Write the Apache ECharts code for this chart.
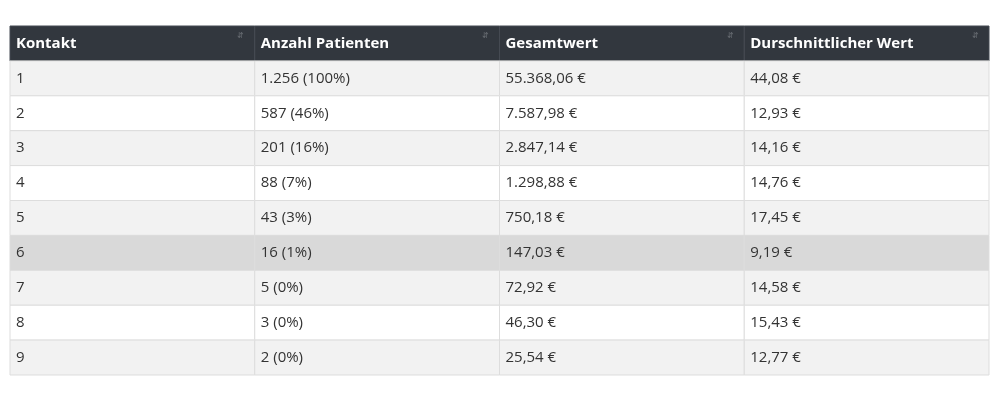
<!DOCTYPE html>
<html><head><meta charset="utf-8">
<script src="https://cdn.jsdelivr.net/npm/echarts@6/dist/echarts.min.js"></script>
<style>html,body{margin:0;background:#fff}#c{width:1000px;height:400px}</style>
</head><body><div id="c"></div>
<script>
const headers = ['Kontakt','Anzahl Patienten','Gesamtwert','Durschnittlicher Wert'];
const kontakt = ['1','2','3','4','5','6','7','8','9'];
const patienten = ['1.256 (100%)','587 (46%)','201 (16%)','88 (7%)','43 (3%)','16 (1%)','5 (0%)','3 (0%)','2 (0%)'];
const gesamt = ['55.368,06 €','7.587,98 €','2.847,14 €','1.298,88 €','750,18 €','147,03 €','72,92 €','46,30 €','25,54 €'];
const durchschnitt = ['44,08 €','12,93 €','14,16 €','14,76 €','17,45 €','9,19 €','14,58 €','15,43 €','12,77 €'];
const highlightRow = 6;

const cols = [kontakt, patienten, gesamt, durchschnitt];
const data = [];
headers.forEach((h,c)=>data.push([c,0,h]));
kontakt.forEach((_,r)=>cols.forEach((col,c)=>data.push([c,r+1,col[r]])));

const chart = echarts.init(document.getElementById('c'));
chart.setOption({
  animation:false,
  grid:{left:10,top:26,width:979,height:349},
  xAxis:{type:'value',min:0,max:4,show:false},
  yAxis:{type:'value',min:0,max:10,inverse:true,show:false},
  series:[{
    type:'custom',
    data:data,
    renderItem:function(params,api){
      const c=api.value(0), r=api.value(1), t=data[params.dataIndex][2];
      const p0=api.coord([c,r]), p1=api.coord([c+1,r+1]);
      const w=p1[0]-p0[0], h=p1[1]-p0[1];
      let fill;
      if(r===0) fill='#32373e';
      else if(r===highlightRow) fill='#d9d9d9';
      else fill = (r%2===1)?'#f2f2f2':'#ffffff';
      const children=[{
        type:'rect',shape:{x:p0[0],y:p0[1],width:w,height:h},
        style:{fill:fill,stroke:r===0?'#454a52':'#dddddd',lineWidth:1}
      },{
        type:'text',x:p0[0]+6,y:p0[1]+h/2,
        style:{text:t,fill:r===0?'#ffffff':'#333333',
          font:(r===0?'bold 15px':'15px')+' "Open Sans", sans-serif',
          verticalAlign:'middle',align:'left'}
      }];
      if(r===0){
        children.push({type:'text',x:p0[0]+w-14,y:p0[1]+10,
          style:{text:'⇵',fill:'#666a70',font:'8px sans-serif',verticalAlign:'middle',align:'center'}});
      }
      return {type:'group',children:children};
    }
  }]
});
</script></body></html>
